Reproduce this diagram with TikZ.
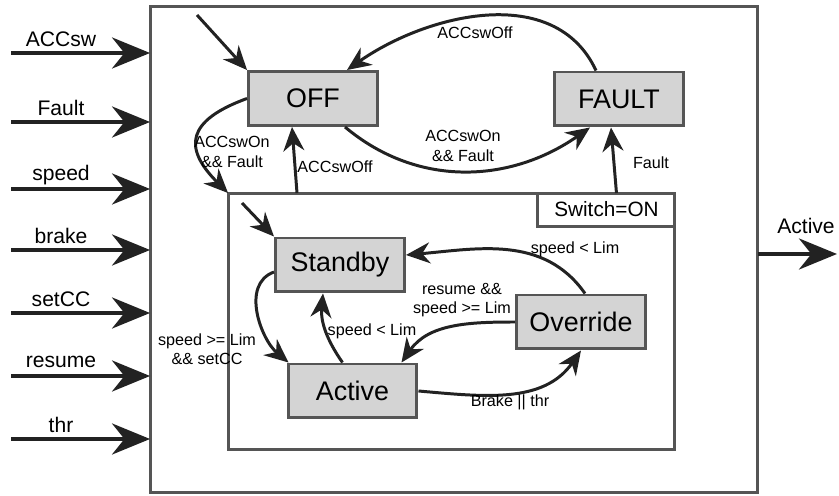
\documentclass[tikz,border=0pt]{standalone}
\usepackage{fontspec}
\setmainfont{Liberation Sans}
\usepackage{tikz}
\usetikzlibrary{arrows.meta, positioning, calc}
\definecolor{frame}{HTML}{555555}
\definecolor{ink}{HTML}{222222}
\definecolor{statefill}{HTML}{D4D4D4}

\begin{document}
\begin{tikzpicture}[x=0.02cm,y=-0.02cm,
  estado/.style={draw=frame,fill=statefill,line width=1.7pt,minimum width=2.58cm,
    minimum height=1.08cm,font=\fontsize{15.3}{17}\selectfont},
  caixa/.style={draw=frame,line width=1.7pt,outer sep=0pt},
  trans/.style={draw=ink,line width=1.7pt,-{Stealth[length=0.48cm,width=0.42cm]}},
  entrada/.style={draw=ink,line width=2.4pt,-{Stealth[length=0.76cm,width=0.62cm]}},
  rot/.style={font=\fontsize{9.2}{11}\selectfont,align=center,inner sep=1pt},
  sinal/.style={font=\fontsize{12}{14}\selectfont}]
  \useasboundingbox (0,0) rectangle (839,496);

  % ---------- blocos ----------
  \node[caixa,minimum width=12.16cm,minimum height=9.74cm] (sys) at (454,249.5) {};
  \node[caixa,minimum width=8.94cm,minimum height=5.14cm] (on) at (451.5,321.5) {};
  \node[caixa,anchor=north east,minimum width=2.74cm,minimum height=0.66cm,inner sep=0pt,
    font=\fontsize{11.8}{13}\selectfont] (sw) at (on.north east) {Switch=ON};

  % ---------- estados ----------
  \node[estado] (off) at (313,98.5) {OFF};
  \node[estado] (fault) at (619,99) {FAULT};
  \node[estado] (standby) at (340,265) {Standby};
  \node[estado] (active) at (352.5,391) {Active};
  \node[estado] (override) at (581,322) {Override};

  % ---------- entradas e saída ----------
  \foreach \nome/\y in {ACCsw/53,Fault/122,speed/189,brake/250,setCC/313,resume/376,thr/439}{
    \coordinate (in-\nome) at (11,\y);
    \draw[entrada] (in-\nome) -- (in-\nome -| sys.west);
    \node[sinal] (lbl-\nome) at (61,\y-14) {\nome};
  }
  \coordinate (out) at (837,254);
  \draw[entrada] (out -| sys.east) -- (out);
  \node[sinal] (lbl-out) at (806,226) {Active};

  % ---------- nível de cima ----------
  \coordinate (ini-off) at (197,15);
  \draw[trans] (ini-off) -- (off.north west);
  \draw[trans] ([xshift=-0.46cm]fault.north) to[out=115,in=35] ([xshift=0.68cm]off.north);
  \node[rot] (l-off1) at (475,33) {ACCswOff};
  \draw[trans] ([xshift=0.64cm]off.south) to[out=-40,in=-145] ([xshift=-0.58cm]fault.south);
  \node[rot] (l-on1) at (463,146) {ACCswOn\\\&\& Fault};
  \draw[trans] (off.west) to[out=200,in=135,looseness=1.7] (on.north west);
  \node[rot] (l-on2) at (232,152) {ACCswOn\\\&\& Fault};
  \draw[trans] ([xshift=-0.32cm]off.south |- on.north) -- ([xshift=-0.42cm]off.south);
  \node[rot] (l-off2) at (335,167) {ACCswOff};
  \draw[trans] ([xshift=0.2cm]sw.north) -- ([xshift=-0.16cm]fault.south);
  \node[rot] (l-flt) at (651,163) {Fault};

  % ---------- dentro de Switch=ON ----------
  \coordinate (ini-stb) at (242,203);
  \draw[trans] (ini-stb) -- (standby.north west);
  \draw[trans] ([yshift=-0.14cm]standby.west) to[out=200,in=140] ([xshift=0.04cm]active.north west);
  \node[rot] (l-set) at (207,349) {speed >= Lim\\\&\& setCC};
  \draw[trans] ([xshift=-0.2cm]active.north) to[out=125,in=-95] ([xshift=-0.34cm]standby.south);
  \node[rot] (l-lt1) at (372,331) {speed < Lim};
  \draw[trans] (override.west) to[out=180,in=55] ([xshift=-0.34cm]active.north east);
  \node[rot] (l-res) at (462,300) {resume \&\&\\speed >= Lim};
  \draw[trans] (active.east) to[out=-5,in=-125] (override.south);
  \node[rot] (l-brk) at (510,402) {Brake || thr};
  \draw[trans] ([xshift=0.08cm]override.north) to[out=125,in=5] ([yshift=0.2cm]standby.east);
  \node[rot] (l-lt2) at (575,249) {speed < Lim};
\end{tikzpicture}
\end{document}
